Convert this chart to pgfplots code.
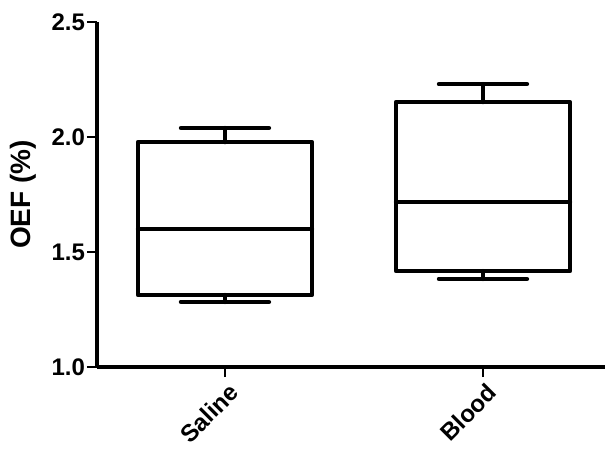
\documentclass[border=0pt]{standalone}
\usepackage{fontspec}
\setmainfont{Liberation Sans}
\usepackage{pgfplots}
\pgfplotsset{compat=1.18}
\usepgfplotslibrary{statistics}
\begin{document}
\begin{tikzpicture}
\useasboundingbox (-72.75pt,-65.25pt) rectangle (381pt,275.25pt);
\begin{axis}[
  at={(0pt,0pt)}, anchor=south west,
  scale only axis,
  width=381pt, height=258.75pt,
  xmin=-0.496, xmax=1.473,
  ymin=1.0, ymax=2.5,
  axis x line=bottom, axis y line=left,
  axis line style={-, line width=2.4pt},
  xtick={0,1}, xticklabels={Saline,Blood},
  ytick={1.0,1.5,2.0,2.5},
  minor tick num=0,
  tick align=outside,
  major tick length=7.5pt,
  tick style={line width=2.2pt, black},
  /pgf/number format/assume math mode=true,
  yticklabel style={/pgf/number format/fixed, /pgf/number format/fixed zerofill, /pgf/number format/precision=1, font=\bfseries\fontsize{18}{18}\selectfont, xshift=2pt},
  xticklabel style={font=\bfseries\fontsize{18}{18}\selectfont, rotate=45, anchor=north east, inner sep=1pt, yshift=-3pt},
  ylabel={OEF (\%)},
  ylabel style={font=\bfseries\fontsize{21}{21}\selectfont, at={(axis description cs:-0.1457,0.5)}, anchor=center},
  boxplot/draw direction=y,
  clip=false,
]
\addplot+[black, line width=3.3pt, line cap=round, line join=round, mark=none,
  boxplot prepared={lower whisker=1.283, lower quartile=1.313, median=1.600, upper quartile=1.978, upper whisker=2.039, draw position=0, box extend=0.674, whisker extend=0.341}] coordinates {};
\addplot+[black, line width=3.3pt, line cap=round, line join=round, mark=none,
  boxplot prepared={lower whisker=1.383, lower quartile=1.417, median=1.717, upper quartile=2.152, upper whisker=2.230, draw position=1, box extend=0.674, whisker extend=0.341}] coordinates {};
\end{axis}
\end{tikzpicture}
\end{document}
